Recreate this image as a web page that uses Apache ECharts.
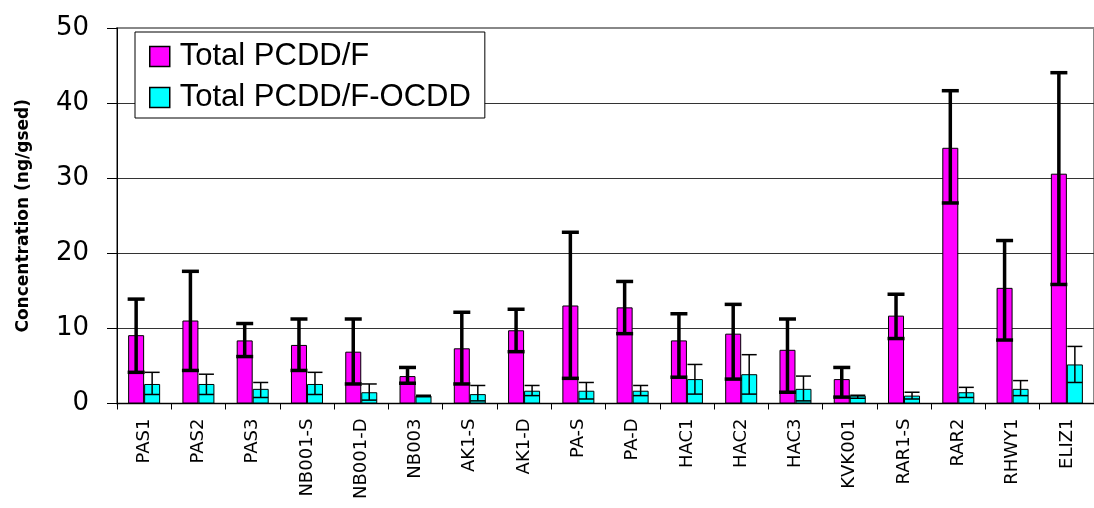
<!DOCTYPE html>
<html>
<head>
<meta charset="utf-8">
<script src="https://cdn.jsdelivr.net/npm/echarts@6/dist/echarts.min.js"></script>
<style>
html,body{margin:0;padding:0;background:#fff;}
#chart{width:1094px;height:508px;}
</style>
</head>
<body>
<div id="chart"></div>
<script>
const categories = ['PAS1','PAS2','PAS3','NB001-S','NB001-D','NB003','AK1-S','AK1-D','PA-S','PA-D','HAC1','HAC2','HAC3','KVK001','RAR1-S','RAR2','RHWY1','ELIZ1'];
const totalMean  = [9.1, 11.05, 8.4, 7.8, 6.9, 3.65, 7.35, 9.75, 13.05, 12.8, 8.4, 9.3, 7.15, 3.25, 11.7, 34.05, 15.4, 30.6];
const totalHigh  = [13.9, 17.6, 10.65, 11.25, 11.25, 4.8, 12.15, 12.55, 22.8, 16.25, 11.95, 13.2, 11.25, 4.8, 14.55, 41.65, 21.7, 44.05];
const totalLow   = [4.15, 4.4, 6.25, 4.4, 2.6, 2.7, 2.6, 6.9, 3.35, 9.3, 3.5, 3.25, 1.5, 0.85, 8.65, 26.7, 8.45, 15.85];
const ocddMean   = [2.6, 2.6, 1.95, 2.6, 1.5, 1.05, 1.25, 1.7, 1.7, 1.7, 3.25, 3.9, 1.95, 1.05, 1.05, 1.5, 1.95, 5.2];
const ocddHigh   = [4.15, 3.9, 2.8, 4.15, 2.6, 1.1, 2.4, 2.4, 2.8, 2.4, 5.2, 6.5, 3.65, 1.1, 1.5, 2.15, 3.05, 7.6];
const ocddLow    = [1.2, 1.2, 0.8, 1.2, 0.45, 0.9, 0.35, 1.05, 0.6, 1.05, 1.25, 1.25, 0.35, 0.7, 0.6, 0.8, 1.05, 2.8];
const yTicks = [0, 10, 20, 30, 40, 50];

const errTotal = categories.map((c, i) => [i, totalLow[i], totalHigh[i]]);
const errOcdd = categories.map((c, i) => [i, ocddLow[i], ocddHigh[i]]);

function errorRenderer(offset, lineW, capW) {
  return function (params, api) {
    const i = api.value(0);
    const lo = api.coord([i, api.value(1)]);
    const hi = api.coord([i, api.value(2)]);
    const x = lo[0] + offset;
    const style = { stroke: '#000', lineWidth: lineW };
    return {
      type: 'group',
      children: [
        { type: 'line', shape: { x1: x, y1: lo[1], x2: x, y2: hi[1] }, style: style },
        { type: 'line', shape: { x1: x - capW / 2, y1: hi[1], x2: x + capW / 2, y2: hi[1] }, style: style },
        { type: 'line', shape: { x1: x - capW / 2, y1: lo[1], x2: x + capW / 2, y2: lo[1] }, style: style }
      ]
    };
  };
}

const chart = echarts.init(document.getElementById('chart'), null, { renderer: 'canvas' });
chart.setOption({
  animation: false,
  backgroundColor: '#fff',
  grid: { left: 117, top: 28, width: 984, height: 375.5, containLabel: false, show: true, borderColor: '#888', borderWidth: 2, backgroundColor: 'transparent' },
  legend: {
    orient: 'vertical',
    left: 135,
    top: 32,
    padding: [9, 14, 5, 14],
    itemWidth: 20,
    itemHeight: 20,
    itemGap: 10,
    backgroundColor: '#fff',
    borderColor: '#000',
    borderWidth: 1,
    data: ['Total PCDD/F', 'Total PCDD/F-OCDD'],
    icon: 'rect',
    itemStyle: { borderColor: '#000', borderWidth: 1.5 },
    textStyle: { fontFamily: 'Liberation Sans, Arial, sans-serif', fontSize: 31, color: '#000', padding: [0, 0, 3, 5] }
  },
  xAxis: {
    type: 'category',
    data: categories,
    boundaryGap: true,
    axisLine: { lineStyle: { color: '#000', width: 1 } },
    axisTick: { show: true, length: 6, lineStyle: { color: '#000' } },
    axisLabel: { rotate: 90, interval: 0, margin: 15, fontFamily: 'DejaVu Sans, sans-serif', fontSize: 18, color: '#000' }
  },
  yAxis: {
    type: 'value',
    min: 0, max: 50, interval: 10,
    name: 'Concentration (ng/gsed)',
    nameLocation: 'middle',
    nameGap: 85,
    nameTextStyle: { fontFamily: 'DejaVu Sans, sans-serif', fontWeight: 'bold', fontSize: 17, color: '#000' },
    axisLine: { show: true, lineStyle: { color: '#000', width: 1 } },
    axisTick: { show: true, length: 10, lineStyle: { color: '#000' } },
    axisLabel: { margin: 28, fontFamily: 'DejaVu Sans, sans-serif', fontSize: 26, color: '#000', formatter: v => yTicks.includes(v) ? String(v) : '' },
    splitLine: { show: true, lineStyle: { color: ['#000', '#333', '#333', '#333', '#333', '#888'], width: 1.2 } }
  },
  series: [
    {
      name: 'Total PCDD/F', type: 'bar', data: totalMean, barWidth: 16, barGap: '0%',
      itemStyle: { color: '#FF00FF', borderColor: '#000', borderWidth: 1 }
    },
    {
      name: 'Total PCDD/F-OCDD', type: 'bar', data: ocddMean, barWidth: 16, barGap: '0%',
      itemStyle: { color: '#00FFFF', borderColor: '#000', borderWidth: 1 }
    },
    {
      type: 'custom', name: 'errTotal', data: errTotal, z: 10,
      renderItem: errorRenderer(-8, 3.5, 17), silent: true
    },
    {
      type: 'custom', name: 'errOcdd', data: errOcdd, z: 10,
      renderItem: errorRenderer(8, 1.5, 15), silent: true
    }
  ]
});
</script>
</body>
</html>
